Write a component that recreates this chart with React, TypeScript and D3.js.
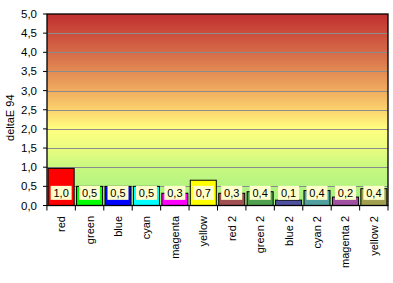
import React from "react";
import * as d3 from "d3";

const categories = ["red", "green", "blue", "cyan", "magenta", "yellow", "red 2", "green 2", "blue 2", "cyan 2", "magenta 2", "yellow 2"];
const values = [0.97, 0.5, 0.5, 0.5, 0.32, 0.66, 0.32, 0.36, 0.14, 0.39, 0.22, 0.44];
const barColors = ["#ff0000", "#00ff00", "#0000ff", "#00ffff", "#ff00ff", "#ffff00", "#a05050", "#50a050", "#5050a0", "#50a0a0", "#a050a0", "#a0a050"];
const yTicks = [0, 0.5, 1, 1.5, 2, 2.5, 3, 3.5, 4, 4.5, 5];
const yTitle = "deltaE 94";
const gradStops: [number, string][] = [
  [0, "#c0302f"],
  [0.2, "#d66a48"],
  [0.4, "#efac5f"],
  [0.5, "#fcd26e"],
  [0.6, "#ffff80"],
  [0.7, "#eafc80"],
  [0.8, "#c8f880"],
  [1, "#a0f080"],
];

const W = 393, H = 283;
const left = 47, right = 388, top = 14, bottom = 205.5;
const font = "'Liberation Sans', Arial, sans-serif";
const fmt = (v: number) => v.toFixed(1).replace(".", ",");

export default function App() {
  const x = d3.scaleBand<string>().domain(categories).range([left, right]).paddingInner(0.085).paddingOuter(0.04);
  const y = d3.scaleLinear().domain([0, 5]).range([bottom, top]);
  const step = x.step();
  const bounds = categories.map((c) => (x(c) as number) - (step - x.bandwidth()) / 2);
  bounds.push(right);
  const labelCy = y(0.33);
  return (
    <div style={{ position: "absolute", left: 0, top: 0 }}>
      <svg width={W} height={H} style={{ display: "block", fontFamily: font }}>
        <defs>
          <linearGradient id="bg" x1="0" y1="0" x2="0" y2="1">
            {gradStops.map(([o, c], i) => (
              <stop key={i} offset={o} stopColor={c} />
            ))}
          </linearGradient>
        </defs>
        <rect x={0} y={0} width={W} height={H} fill="#ffffff" />
        <rect x={left} y={top} width={right - left} height={bottom - top} fill="url(#bg)" />
        {yTicks.filter((t) => t > 0 && t < 5).map((t) => (
          <line key={t} x1={left} x2={right} y1={Math.round(y(t)) + 0.5} y2={Math.round(y(t)) + 0.5} stroke="#8c8c8c" strokeWidth={1} />
        ))}
        {categories.map((c, i) => (
          <rect key={c} x={x(c)} y={y(values[i])} width={x.bandwidth()} height={bottom - y(values[i])} fill={barColors[i]} stroke="#000" strokeWidth={1} />
        ))}
        {categories.map((c, i) => (
          <g key={c + "l"}>
            <rect x={(x(c) as number) + 2.5} y={labelCy - 7} width={x.bandwidth() - 5} height={14} fill="#ffffcc" />
            <text x={(x(c) as number) + x.bandwidth() / 2} y={labelCy} dy="0.35em" textAnchor="middle" fontSize={11} fill="#000">
              {fmt(values[i])}
            </text>
          </g>
        ))}
        <rect x={left} y={top} width={right - left} height={bottom - top} fill="none" stroke="#000" strokeWidth={1.3} />
        {bounds.map((b, i) => (
          <line key={i} x1={b} x2={b} y1={bottom} y2={bottom + 5} stroke="#000" strokeWidth={1} />
        ))}
        {yTicks.map((t) => (
          <g key={t}>
            <line x1={left - 4} x2={left} y1={y(t)} y2={y(t)} stroke="#000" strokeWidth={1} />
            <text x={left - 10} y={y(t)} dy="0.35em" textAnchor="end" fontSize={11.5} fill="#000">
              {fmt(t)}
            </text>
          </g>
        ))}
        {categories.map((c) => {
          const cx = (x(c) as number) + x.bandwidth() / 2;
          return (
            <text key={c + "t"} transform={`translate(${cx + 4},216) rotate(-90)`} textAnchor="end" fontSize={11} fill="#000">
              {c}
            </text>
          );
        })}
        <text transform={`translate(14,${(top + bottom) / 2 + 8}) rotate(-90)`} textAnchor="middle" fontSize={11} fill="#000">
          {yTitle}
        </text>
      </svg>
    </div>
  );
}
